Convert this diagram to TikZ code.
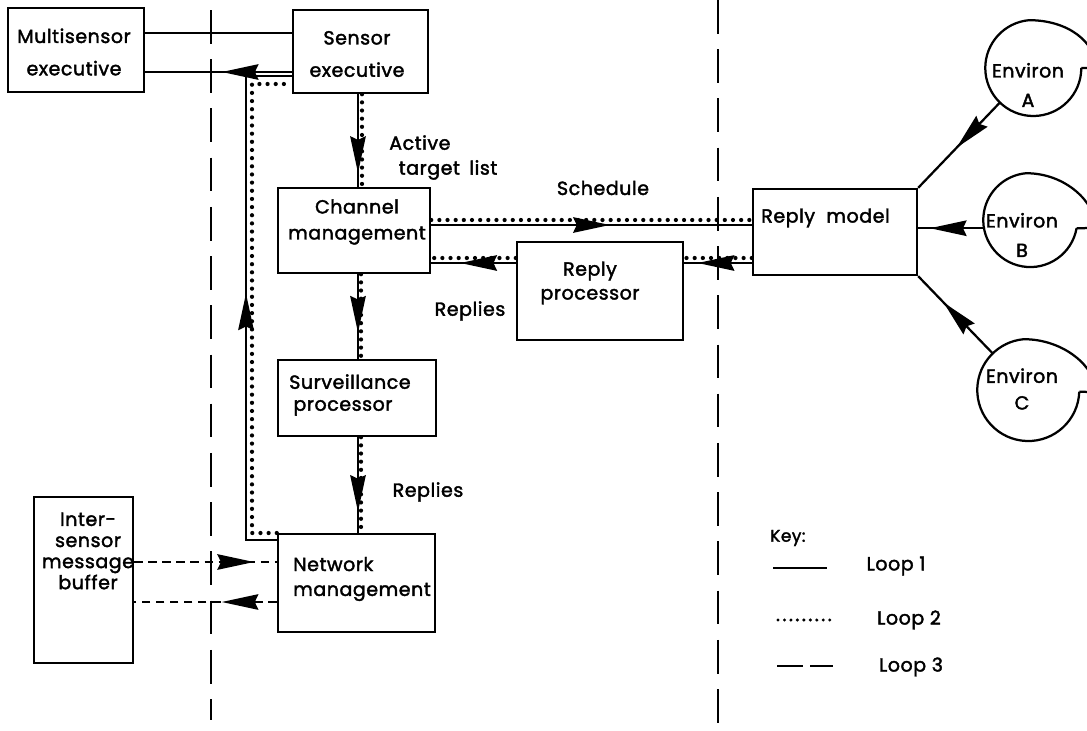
\documentclass[tikz,border=0pt]{standalone}
\usepackage{fontspec}
\setmainfont{Poppins}[FakeBold=2, LetterSpace=3]
\usetikzlibrary{arrows.meta,decorations.markings,calc}
\tikzset{
  box/.style={draw, line width=1.7pt, inner sep=0pt},
  txt/.style={inner sep=0pt, align=center, font=\fontsize{13.5}{18}\selectfont},
  l1/.style={line width=1.6pt},
  l2/.style={line width=3pt, line cap=round, dash pattern=on 0pt off 5.8pt},
  l3/.style={line width=1.5pt, dash pattern=on 6pt off 4pt},
  sepline/.style={line width=1.6pt, dash pattern=on 24pt off 11pt},
  tipat/.style={postaction={decorate, decoration={markings, mark=at position #1 with {\arrow{Stealth[length=26pt,width=11pt,inset=2.5pt]}}}}},
  env/.style={circle, inner sep=0pt},
}
\begin{document}
\begin{tikzpicture}[x=0.025cm,y=-0.025cm]
\useasboundingbox (0,0) rectangle (1087,731);
\clip (0,0) rectangle (1087,731);

% boxes
\node[box, minimum width=3.4cm, minimum height=2.1cm] (mse) at (76,50) {};
\node[txt, font=\fontsize{13.5}{23}\selectfont] (mseT) at (74,52) {Multisensor\\executive};
\node[box, minimum width=3.375cm, minimum height=2.075cm] (se) at (360.5,51.5) {};
\node[txt, font=\fontsize{13.5}{23}\selectfont] (seT) at (357,54) {Sensor\\executive};
\node[box, minimum width=3.8cm, minimum height=2.125cm] (cm) at (354,230.5) {};
\node[txt, font=\fontsize{13.5}{18.5}\selectfont] (cmT) at (357,222) {Channel\\management};
\node[box, minimum width=4.15cm, minimum height=2.45cm] (rp) at (600,291) {};
\node[txt, font=\fontsize{13.5}{17}\selectfont] (rpT) at (590,283) {Reply\\processor};
\node[box, minimum width=3.95cm, minimum height=1.9cm] (sp) at (357,398) {};
\node[txt, align=left, anchor=west, font=\fontsize{13.5}{15.6}\selectfont] (spT) at (289,395) {Surveillance\\\hspace*{3pt}processor};
\node[box, minimum width=3.925cm, minimum height=2.45cm] (nm) at (356.5,583) {};
\node[txt, align=left, anchor=west, font=\fontsize{13.5}{17.7}\selectfont] (nmT) at (293,579) {Network\\management};
\node[box, minimum width=2.475cm, minimum height=4.15cm] (isb) at (83.5,580) {};
\node[txt, font=\fontsize{13.5}{15}\selectfont] (isbT) at (88,551) {Inter-\\sensor\\message\\buffer};
\node[box, minimum width=4.1cm, minimum height=2.15cm] (rm) at (835,232) {};
\node[txt, anchor=west] (rmT) at (761,218) {Reply\hspace{0.6em}model};

% environments
\node[env, minimum size=2.4cm] (envA) at (1033,68) {};
\node[env, minimum size=2.35cm] (envB) at (1030,220) {};
\node[env, minimum size=2.55cm] (envC) at (1028,390) {};
\draw[l1] (envA.0) arc[start angle=0, end angle=-265, radius=1.2cm]
  .. controls +(40,0) and +(0,-25) .. (1096,68) -- (envA.0);
\draw[l1] (envB.-10) arc[start angle=-10, end angle=-265, radius=1.175cm]
  .. controls +(40,0) and +(0,-25) .. (1096,228) -- (envB.-10);
\draw[l1] (envC.-2) arc[start angle=-2, end angle=-265, radius=1.275cm]
  .. controls +(40,0) and +(0,-25) .. (1096,392) -- (envC.-2);
\node[txt, font=\fontsize{13.5}{21}\selectfont] (envAT) at (1028,85) {Environ\\A};
\node[txt, font=\fontsize{13.5}{21}\selectfont] (envBT) at (1022,235) {Environ\\B};
\node[txt, font=\fontsize{13.5}{19}\selectfont] (envCT) at (1022,389) {Environ\\C};

% separators
\draw[sepline] (211,10) -- (211,720);
\draw[sepline] (718,0) -- (718,731);

% loop 2 (dotted)
\draw[l2] (362,0 |- se.south) -- (362,0 |- cm.north);
\draw[l2] (361,0 |- cm.south) -- (361,0 |- sp.north);
\draw[l2] (361,0 |- sp.south) -- (361,0 |- nm.north);
\draw[l2] (cm.east |- 0,220) -- (rm.west |- 0,220);
\draw[l2] (rp.west |- 0,258) -- (cm.east |- 0,258);
\draw[l2] (rm.west |- 0,258) -- (rp.east |- 0,258);
\draw[l2] (nm.west |- 0,533) -| (252,84) -- (se.west |- 0,84);

% loop 1 (solid)
\draw[l1] (mse.east |- 0,33) -- (se.west |- 0,33);
\draw[l1, tipat=0.477] (se.west |- 0,72) -- (mse.east |- 0,72);
\draw[l1, tipat=0.85] (358,0 |- se.south) -- (358,0 |- cm.north);
\draw[l1, tipat=0.69] (358,0 |- cm.south) -- (358,0 |- sp.north);
\draw[l1, tipat=0.78] (358,0 |- sp.south) -- (358,0 |- nm.north);
\draw[l1, tipat=0.557] (cm.east |- 0,225) -- (rm.west |- 0,225);
\draw[l1, tipat=0.655] (rp.west |- 0,263) -- (cm.east |- 0,263);
\draw[l1, tipat=0.8] (rm.west |- 0,263) -- (rp.east |- 0,263);
\draw[l1, tipat=0.513] (nm.west |- 0,540) -| (246,76) -- (se.west |- 0,76);
\draw[l1, tipat=0.53] (envA) -- (rm.north east);
\draw[l1, tipat=0.82] (envB.190) -- (rm.east |- envB.190);
\draw[l1, tipat=0.66] (envC) -- (rm.south east);

% loop 3 (dashed)
\draw[l3, tipat=0.84] (isb.east |- 0,562) -- (nm.west |- 0,562);
\draw[l3, tipat=0.386] (nm.west |- 0,602) -- (isb.east |- 0,602);

% labels
\node[txt, align=left, anchor=north west, font=\fontsize{13.5}{17.7}\selectfont] (atl) at (389,135) {Active\\\hspace*{0.5em}target\hspace{0.5em}list};
\node[txt] (sched) at (603,188) {Schedule};
\node[txt] (rep1) at (470,311) {Replies};
\node[txt] (rep2) at (428,492) {Replies};

% key
\node[txt, anchor=west, font=\fontsize{12}{14}\selectfont] (key) at (770,538) {Key:};
\coordinate (k1a) at (773,568); \coordinate (k1b) at (827,568);
\coordinate (k2a) at (778,620); \coordinate (k2b) at (830,620);
\coordinate (k3a) at (777,666); \coordinate (k3b) at (833,666);
\draw[l1] (k1a) -- (k1b);
\draw[l2, line width=2.4pt, dash pattern=on 0pt off 4.6pt] (k2a) -- (k2b);
\draw[l1, dash pattern=on 18.5pt off 5pt] (k3a) -- (k3b);
\node[txt] (loop1) at (896,566) {Loop\hspace{0.3em}1};
\node[txt] (loop2) at (909,620) {Loop 2};
\node[txt] (loop3) at (911,667) {Loop 3};
\end{tikzpicture}
\end{document}
